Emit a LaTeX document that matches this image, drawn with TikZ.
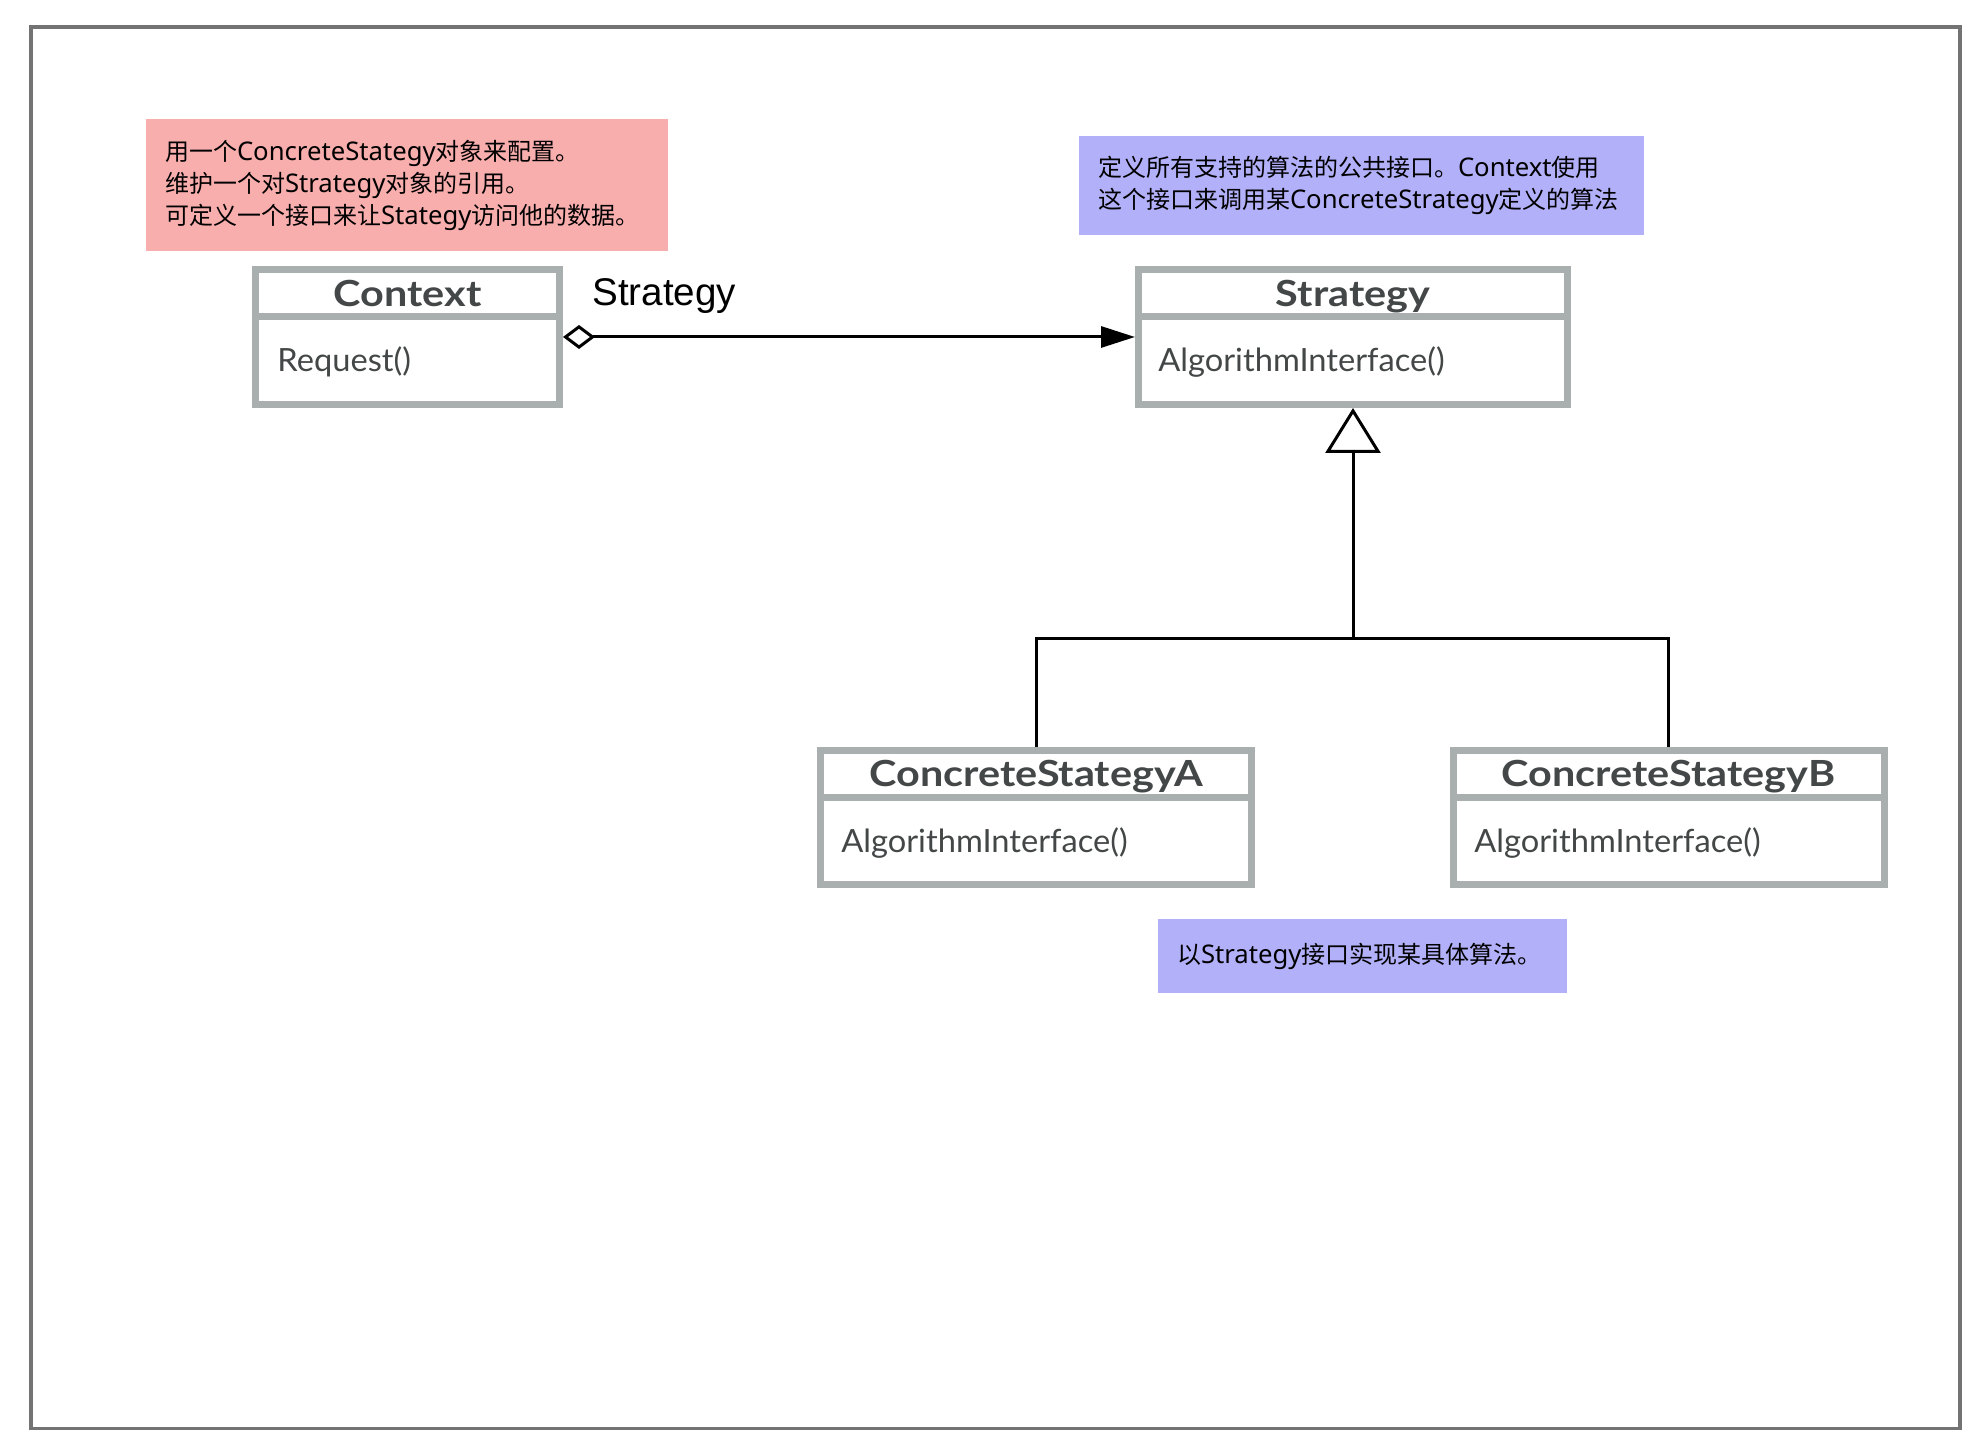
\documentclass[tikz,border=0pt]{standalone}
\usepackage{fontspec}
\usetikzlibrary{arrows.meta}
\newfontfamily\cjk{Noto Sans CJK SC}
\newfontfamily\notelatin{Noto Sans}[Scale=1.07]
\newfontfamily\umlfont{Lato}[FakeStretch=1.02]
\newfontfamily\umlbold{Lato}[FakeStretch=1.15]
\newfontfamily\labelfont{Liberation Sans}
\newcommand\ltn[1]{{\notelatin #1}}
\definecolor{frameGray}{HTML}{737373}
\definecolor{boxGray}{HTML}{A9AFAF}
\definecolor{textGray}{HTML}{444747}
\definecolor{notePink}{HTML}{F9AEAE}
\definecolor{notePurple}{HTML}{B2B0F8}
\tikzset{
  classbox/.style={draw=boxGray, line width=3.5pt, fill=white, rectangle, inner sep=0pt},
  classname/.style={anchor=base, inner sep=0pt, text=textGray, font=\umlbold\bfseries\fontsize{18}{22}\selectfont},
  method/.style={anchor=base west, inner sep=0pt, text=textGray, font=\umlfont\fontsize{16}{20}\selectfont},
  divider/.style={draw=boxGray, line width=3.5pt},
  note/.style={rectangle, inner xsep=9.5pt, inner ysep=0pt, align=left, text=black,
    font=\cjk\fontsize{12}{16}\selectfont},
  link/.style={line width=1.5pt, black},
}
\begin{document}
\begin{tikzpicture}[x=0.5pt, y=-0.5pt]
  \useasboundingbox (0,0) rectangle (1988,1454);
  % outer frame
  \draw[frameGray, line width=1.75pt] (31,27) rectangle (1960,1428.5);

  % notes
  \node[note, fill=notePink, minimum width=261pt, minimum height=66pt, text width=242pt]
    (note1) at (407,185)
    {用一个\ltn{ConcreteStategy}对象来配置。\\维护一个对\ltn{Strategy}对象的引用。\\可定义一个接口来让\ltn{Stategy}访问他的数据。};
  \node[note, fill=notePurple, minimum width=282.5pt, minimum height=49.5pt, text width=263.5pt]
    (note2) at (1361.5,185.5)
    {定义所有支持的算法的公共接口。\ltn{Context}使用\\这个接口来调用某\ltn{ConcreteStrategy}定义的算法};
  \node[note, fill=notePurple, minimum width=204.5pt, minimum height=37pt, text width=185.5pt]
    (note3) at (1362.5,956)
    {以\ltn{Strategy}接口实现某具体算法。};

  % class boxes
  \node[classbox, minimum width=152pt, minimum height=67.5pt] (ctx) at (407.5,337) {};
  \node[classbox, minimum width=214.5pt, minimum height=67.5pt] (strat) at (1353,337) {};
  \node[classbox, minimum width=215.5pt, minimum height=67pt] (ca) at (1036,817.5) {};
  \node[classbox, minimum width=215.5pt, minimum height=67pt] (cb) at (1668.5,817.5) {};

  % compartments
  \draw[divider] (ctx.west |- 0,317) -- (ctx.east |- 0,317);
  \draw[divider] (strat.west |- 0,317) -- (strat.east |- 0,317);
  \draw[divider] (ca.west |- 0,798) -- (ca.east |- 0,798);
  \draw[divider] (cb.west |- 0,798) -- (cb.east |- 0,798);

  % class names
  \node[classname] (ctxname) at (407.5,307) {Context};
  \node[classname] (stratname) at (1353,307) {Strategy};
  \node[classname] (caname) at (1036,787) {ConcreteStategyA};
  \node[classname] (cbname) at (1668.5,787) {ConcreteStategyB};

  % operations
  \node[method] (ctxop) at (277,372) {Request()};
  \node[method] (stratop) at (1158,372) {AlgorithmInterface()};
  \node[method] (caop) at (841,853) {AlgorithmInterface()};
  \node[method] (cbop) at (1474,853) {AlgorithmInterface()};

  % aggregation
  \draw[link, {Diamond[open, fill=white, length=16pt, width=12pt]}-{Triangle[length=17pt, width=10.5pt]}]
    (ctx.east) -- (strat.west);
  \node[anchor=base west, inner sep=0pt, font=\labelfont\fontsize{19.3}{23}\selectfont] (rolename) at (592,306) {Strategy};

  % generalization
  \coordinate (junc) at (1353,639);
  \draw[link, -{Triangle[open, fill=white, length=22.5pt, width=27.5pt]}]
    (ca.north) |- (junc) -- (strat.south);
  \draw[link] (cb.north) |- (junc);
\end{tikzpicture}
\end{document}
